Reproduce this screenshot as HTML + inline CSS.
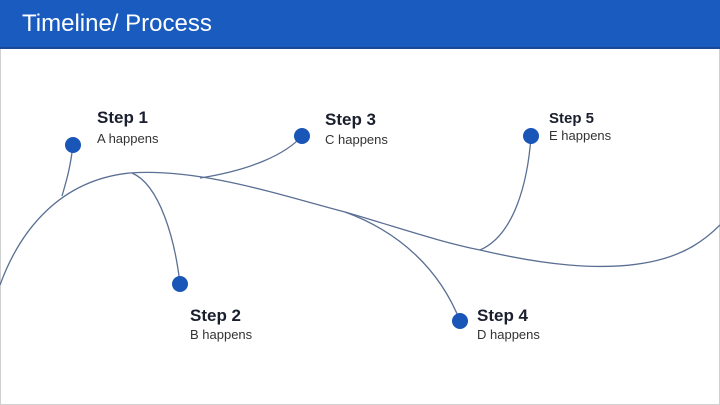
<!DOCTYPE html>
<html><head><style>
body{margin:0;width:720px;height:405px;overflow:hidden;background:#fff;font-family:"Liberation Sans",sans-serif}
.frame{position:absolute;left:0;top:0;width:718px;height:403px;border:1px solid #d0d0d0}
.hdr{position:absolute;left:0;top:0;width:720px;height:47px;background:#1a5bbf;border-bottom:2px solid #1a4a95}
.hdr span{position:absolute;left:22px;top:10px;color:#fff;font-size:24px}
.t{position:absolute;color:#1a1f2e;white-space:nowrap}
.b{font-weight:bold;font-size:17px}
.s{font-size:13px;color:#333}
</style></head><body>
<div class="frame"></div>
<div class="hdr"><span>Timeline/ Process</span></div>
<svg width="720" height="405" style="position:absolute;left:0;top:0">
<g fill="none" stroke="#5a6f93" stroke-width="1.3">
<path d="M0,285 C20,230 60,180 130,173 C200,168 280,195 345,212 C400,228 440,242 480,250 C540,264 600,272 650,262 C685,255 705,240 720,225"/>
<path d="M73,145 C70,170 66,182 62,196"/>
<path d="M132,173 C160,185 175,240 180,284"/>
<path d="M200,178 C250,170 285,155 302,136"/>
<path d="M345,212 C400,232 440,270 460,321"/>
<path d="M480,250 C515,235 528,180 531,136"/>
</g>
<g fill="#1a56b8">
<circle cx="73" cy="145" r="8"/><circle cx="180" cy="284" r="8"/><circle cx="302" cy="136" r="8"/><circle cx="460" cy="321" r="8"/><circle cx="531" cy="136" r="8"/>
</g>
</svg>
<div class="t b" style="left:97px;top:108px">Step 1</div><div class="t s" style="left:97px;top:131px">A happens</div>
<div class="t b" style="left:325px;top:110px">Step 3</div><div class="t s" style="left:325px;top:132px">C happens</div>
<div class="t b" style="left:549px;top:110px;font-size:15px">Step 5</div><div class="t s" style="left:549px;top:128px">E happens</div>
<div class="t b" style="left:190px;top:306px">Step 2</div><div class="t s" style="left:190px;top:327px">B happens</div>
<div class="t b" style="left:477px;top:306px">Step 4</div><div class="t s" style="left:477px;top:327px">D happens</div>
</body></html>
